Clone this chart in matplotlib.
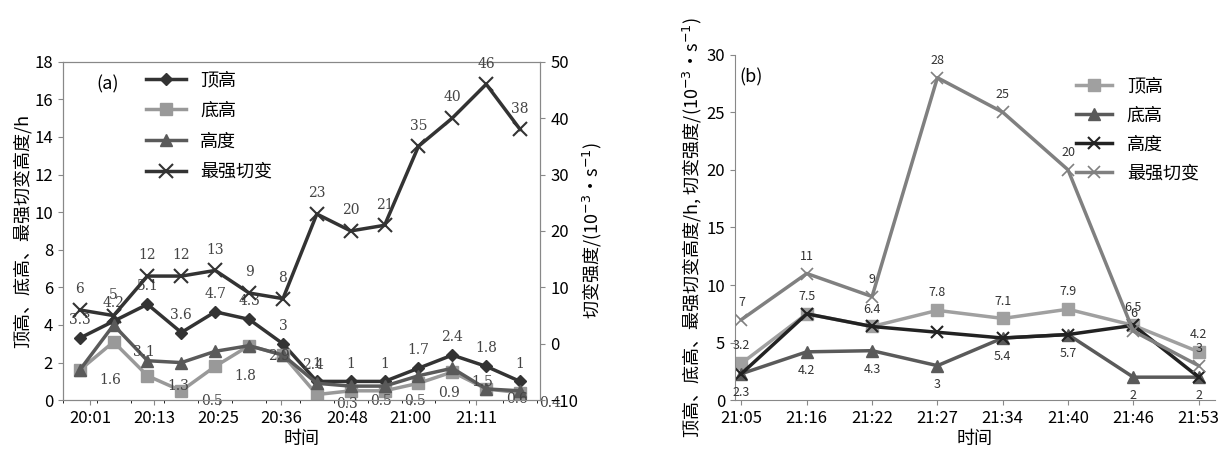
import matplotlib
matplotlib.use("Agg")
import matplotlib.pyplot as plt

plt.rcParams['font.family'] = ['Noto Sans CJK SC', 'DejaVu Sans']

# panel (a)
a_pos = list(range(14))
a_ticks = [0.3, 2.2, 4.1, 5.95, 7.9, 9.75, 11.7]
a_ticklabels = ['20:01', '20:13', '20:25', '20:36', '20:48', '21:00', '21:11']
a_top = [3.3, 4.2, 5.1, 3.6, 4.7, 4.3, 3.0, 1.0, 1.0, 1.0, 1.7, 2.4, 1.8, 1.0]
a_base = [1.6, 3.1, 1.3, 0.5, 1.8, 2.9, 2.4, 0.3, 0.5, 0.5, 0.9, 1.5, 0.6, 0.4]
a_depth = [1.6, 4.0, 2.1, 2.0, 2.6, 2.9, 2.4, 0.9, 0.75, 0.75, 1.3, 1.7, 0.6, 0.5]
a_shear = [6, 5, 12, 12, 13, 9, 8, 23, 20, 21, 35, 40, 46, 38]

# panel (b)
b_labels = ['21:05', '21:16', '21:22', '21:27', '21:34', '21:40', '21:46', '21:53']
b_top = [3.2, 7.5, 6.4, 7.8, 7.1, 7.9, 6.5, 4.2]
b_base = [2.3, 4.2, 4.3, 3.0, 5.4, 5.7, 2.0, 2.0]
b_depth = [2.3, 7.5, 6.4, 5.9, 5.4, 5.7, 6.5, 2.0]
b_shear = [7, 11, 9, 28, 25, 20, 6, 3]

fig = plt.figure(figsize=(12.31, 4.67), dpi=100)

ax = fig.add_axes([0.051, 0.143, 0.388, 0.725])
ax.plot(a_pos, a_top, color='#333333', marker='D', ms=6, lw=2.5, label='顶高')
ax.plot(a_pos, a_base, color='#999999', marker='s', ms=8, lw=2.5, label='底高')
ax.plot(a_pos, a_depth, color='#5a5a5a', marker='^', ms=8, lw=2.5, label='高度')
ax2 = ax.twinx()
ax2.plot(a_pos, a_shear, color='#333333', marker='x', ms=10, mew=1.5, lw=2.5, label='最强切变')
for x, y in zip(a_pos, a_top):
    ax.annotate(f'{y:g}', (x, y), xytext=(0, 10), textcoords='offset points', ha='center', fontsize=10, color='#444', family='DejaVu Serif')
for x, y in zip(a_pos, a_base):
    ax.annotate(f'{y:g}', (x, y), xytext=(14, -10), textcoords='offset points', ha='left', fontsize=10, color='#444', family='DejaVu Serif')
for x, y in zip(a_pos, a_shear):
    ax2.annotate(f'{y:g}', (x, y), xytext=(0, 12), textcoords='offset points', ha='center', fontsize=10, color='#444', family='DejaVu Serif')
ax.set_ylim(0, 18)
ax.set_yticks(range(0, 19, 2))
ax2.set_ylim(-10, 50)
ax2.set_yticks(range(-10, 51, 10))
ax.set_xlim(-0.4, 13.6)
ax.set_xticks(a_ticks)
ax.set_xticklabels(a_ticklabels)
ax.set_xticks([i - 0.5 for i in range(15)], minor=True)
ax.set_xlabel('时间', fontsize=13, labelpad=2)
ax.set_ylabel('顶高、底高、最强切变高度/h', fontsize=13, labelpad=2)
ax2.set_ylabel('切变强度/(10$^{-3}$·s$^{-1}$)', fontsize=13, labelpad=2)
for a in (ax, ax2):
    a.tick_params(labelsize=12, direction='out', color='#888')
    for s in a.spines.values():
        s.set_color('#888')
ax.text(0.07, 0.96, '(a)', transform=ax.transAxes, fontsize=13, va='top')
h1, l1 = ax.get_legend_handles_labels()
h2, l2 = ax2.get_legend_handles_labels()
ax.legend(h1 + h2, l1 + l2, loc='upper left', bbox_to_anchor=(0.14, 1.02), frameon=False, fontsize=13, handlelength=2.2, labelspacing=0.7)

bx = fig.add_axes([0.597, 0.143, 0.39, 0.74])
bp = list(range(len(b_labels)))
bx.plot(bp, b_top, color='#a0a0a0', marker='s', ms=8, lw=2.5, label='顶高')
bx.plot(bp, b_base, color='#5a5a5a', marker='^', ms=8, lw=2.5, label='底高')
bx.plot(bp, b_depth, color='#222222', marker='x', ms=9, mew=1.5, lw=2.5, label='高度')
bx.plot(bp, b_shear, color='#808080', marker='x', ms=9, mew=1.2, lw=2.5, label='最强切变')
for x, y in zip(bp, b_top):
    bx.annotate(f'{y:g}', (x, y), xytext=(0, 10), textcoords='offset points', ha='center', fontsize=9, color='#333')
for x, y in zip(bp, b_base):
    bx.annotate(f'{y:g}', (x, y), xytext=(0, -16), textcoords='offset points', ha='center', fontsize=9, color='#333')
for x, y in zip(bp, b_shear):
    bx.annotate(f'{y:g}', (x, y), xytext=(0, 10), textcoords='offset points', ha='center', fontsize=9, color='#333')
bx.set_ylim(0, 30)
bx.set_xlim(-0.1, 7.25)
bx.set_xticks(bp)
bx.set_xticklabels(b_labels)
bx.set_xlabel('时间', fontsize=13, labelpad=2)
bx.set_ylabel('顶高、底高、最强切变高度/h, 切变强度/(10$^{-3}$·s$^{-1}$)', fontsize=13, labelpad=2)
bx.tick_params(labelsize=12, direction='out', color='#888')
for k in ('top', 'right'):
    bx.spines[k].set_visible(False)
for s in bx.spines.values():
    s.set_color('#888')
bx.text(0.01, 0.96, '(b)', transform=bx.transAxes, fontsize=13, va='top')
bx.legend(loc='upper right', bbox_to_anchor=(1.0, 0.98), frameon=False, fontsize=13, handlelength=2.0, labelspacing=0.6)

fig.savefig('out.png', dpi=100)
